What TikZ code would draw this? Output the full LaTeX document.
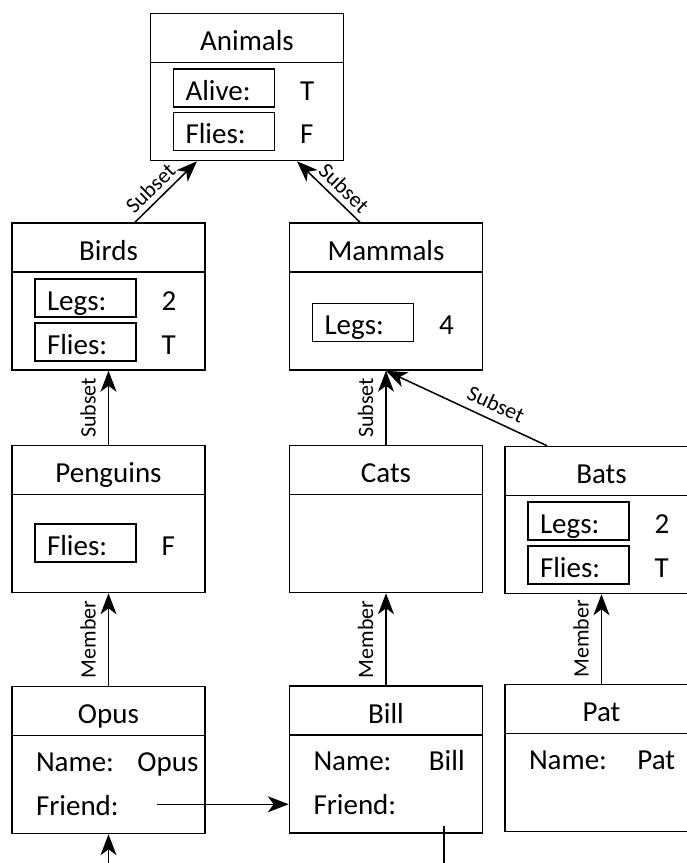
\documentclass[tikz,border=0pt]{standalone}
\usepackage{fontspec}
\setmainfont{Carlito}
\usetikzlibrary{arrows.meta,positioning}
\tikzset{
	frame/.style = {draw, rectangle, minimum width=193pt, minimum height=147pt, inner sep=0pt},
	frame_title/.style = {draw, rectangle, anchor=north, minimum width=193pt, inner xsep=0pt, inner ysep=0pt, text height=37pt, text depth=12pt, font=\fontsize{29}{34}\selectfont},
	slot/.style = {draw, rectangle, align=left, text width=77pt, inner xsep=12pt, inner ysep=0pt, text height=31pt, text depth=7pt, font=\fontsize{29}{34}\selectfont},
	slot_val/.style = {inner sep=0pt, font=\fontsize{29}{34}\selectfont},
	row_txt/.style = {inner sep=0pt, anchor=base west, font=\fontsize{29}{34}\selectfont},
	rel_lbl/.style = {sloped, above=#1, inner sep=1pt, font=\fontsize{22}{26}\selectfont},
	rel_lbl/.default = 11pt
}
\begin{document}
\begin{tikzpicture}[x=1pt, y=-1pt, line width=1.5pt,
	>={Stealth[length=21pt, width=16pt, inset=6pt]}
	]
\useasboundingbox (0,0) rectangle (687,863);
\clip (0,0) rectangle (687,863);

% classes
\node[frame] (animals) at (247,87) {};
\node[frame_title] (animals-t) at (animals.north) {Animals};
\node[slot] (animals-alive) at (224,88) {Alive:};
\node[slot_val, base right=24pt of animals-alive] (animals-alive-v) {T};
\node[slot] (animals-flies) at (224,131.5) {Flies:};
\node[slot_val, base right=24pt of animals-flies] (animals-flies-v) {F};

\node[frame] (birds) at (108.5,296.5) {};
\node[frame_title] (birds-t) at (birds.north) {Birds};
\node[slot] (birds-legs) at (85.5,298) {Legs:};
\node[slot_val, base right=24pt of birds-legs] (birds-legs-v) {2};
\node[slot] (birds-flies) at (85.5,342) {Flies:};
\node[slot_val, base right=24pt of birds-flies] (birds-flies-v) {T};

\node[frame] (mammals) at (386,296.5) {};
\node[frame_title] (mammals-t) at (mammals.north) {Mammals};
\node[slot] (mammals-legs) at (363,322.5) {Legs:};
\node[slot_val, base right=24pt of mammals-legs] (mammals-legs-v) {4};

\node[frame] (penguins) at (108.5,519) {};
\node[frame_title] (penguins-t) at (penguins.north) {Penguins};
\node[slot] (penguins-flies) at (85.5,543) {Flies:};
\node[slot_val, base right=24pt of penguins-flies] (penguins-flies-v) {F};

\node[frame] (cats) at (386,519) {};
\node[frame_title] (cats-t) at (cats.north) {Cats};

\node[frame] (bats) at (601.5,520) {};
\node[frame_title] (bats-t) at (bats.north) {Bats};
\node[slot] (bats-legs) at (578.5,521) {Legs:};
\node[slot_val, base right=24pt of bats-legs] (bats-legs-v) {2};
\node[slot] (bats-flies) at (578.5,565) {Flies:};
\node[slot_val, base right=24pt of bats-flies] (bats-flies-v) {T};

% individuals
\node[frame] (opus) at (108.5,760) {};
\node[frame_title] (opus-t) at (opus.north) {Opus};
\node[row_txt] (opus-name) at ([xshift=24pt,yshift=-85.5pt]opus.north west) {Name:};
\node[row_txt, base right=22pt of opus-name] (opus-name-v) {Opus};
\node[row_txt] (opus-friend) at ([xshift=24pt,yshift=-129.5pt]opus.north west) {Friend:};

\node[frame] (bill) at (386,759.5) {};
\node[frame_title] (bill-t) at (bill.north) {Bill};
\node[row_txt] (bill-name) at ([xshift=24pt,yshift=-85.5pt]bill.north west) {Name:};
\node[row_txt, base right=36pt of bill-name] (bill-name-v) {Bill};
\node[row_txt] (bill-friend) at ([xshift=24pt,yshift=-129.5pt]bill.north west) {Friend:};

\node[frame] (pat) at (601.5,758) {};
\node[frame_title] (pat-t) at (pat.north) {Pat};
\node[row_txt] (pat-name) at ([xshift=24pt,yshift=-85.5pt]pat.north west) {Name:};
\node[row_txt, base right=29pt of pat-name] (pat-name-v) {Pat};

% subset links
\draw[->] ([xshift=26.5pt]birds.north) -- node[rel_lbl=4pt, pos=0.4] (birds-up) {Subset} ([xshift=-50pt]animals.south);
\draw[->] ([xshift=-26pt]mammals.north) -- node[rel_lbl=4pt, pos=0.4] (mammals-up) {Subset} ([xshift=50pt]animals.south);
\draw[->] (penguins.north) -- node[rel_lbl] (penguins-up) {Subset} (birds.south);
\draw[->] (cats.north) -- node[rel_lbl] (cats-up) {Subset} (mammals.south);
\draw[->] ([xshift=-54.5pt]bats.north) -- node[rel_lbl=7pt, pos=0.36] (bats-up) {Subset} (mammals.south);

% member links
\draw[->] (opus.north) -- node[rel_lbl] (opus-up) {Member} (penguins.south);
\draw[->] (bill.north) -- node[rel_lbl] (bill-up) {Member} (cats.south);
\draw[->] (pat.north) -- node[rel_lbl] (pat-up) {Member} (bats.south);

% friend pointers
\coordinate (opus-ptr) at ([xshift=37pt,yshift=11pt]opus-friend.base east);
\draw[->] (opus-ptr) -- (opus-ptr -| bill.west);
\coordinate (opus-in) at (opus.south |- 0,863);
\draw[->] (opus-in) -- (opus.south);
\coordinate (bill-ptr) at ([xshift=58pt,yshift=8pt]bill.south);
\coordinate (bill-out) at (bill-ptr |- 0,863);
\draw (bill-ptr) -- (bill-out);
\end{tikzpicture}
\end{document}
